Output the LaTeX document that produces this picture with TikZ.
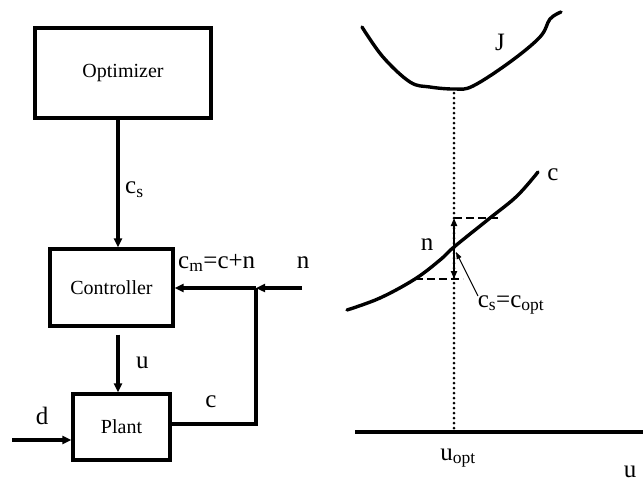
\documentclass[tikz,border=0pt]{standalone}
\usepackage{fontspec}
\setmainfont{Liberation Serif}
\usetikzlibrary{arrows.meta,calc}
\begin{document}
\begin{tikzpicture}[x=1pt,y=-1pt,
  box/.style={draw,line width=3.4pt,inner sep=0pt,font=\fontsize{20}{24}\selectfont},
  arr/.style={line width=3.4pt,-{Triangle[length=9pt,width=8pt]}},
  lbl/.style={inner sep=0pt,font=\fontsize{25}{30}\selectfont},
  curve/.style={line width=3.4pt,line cap=round},
  dotln/.style={line width=3pt,line cap=round,dash pattern=on 0pt off 5pt},
  dashln/.style={line width=2.2pt,dash pattern=on 8pt off 4pt},
  darr/.style={line width=2.4pt,-{Triangle[length=8pt,width=6pt]}},
  thinarr/.style={line width=0.9pt,-{Triangle[length=7pt,width=5pt]}}]
\useasboundingbox (0,0) rectangle (643,483);
% ---------- left block diagram
\node[box,minimum width=176pt,minimum height=90pt] (opt) at (123,73) {Optimizer};
\node[box,minimum width=123pt,minimum height=77pt] (ctl) at (111.5,287.5) {Controller};
\node[box,minimum width=97pt,minimum height=66pt] (plant) at (121.5,427) {Plant};
\coordinate (x1) at (118,0);
\draw[arr] (opt.south -| x1) -- (ctl.north -| x1);
\draw[arr] ($(ctl.south -| x1)+(0,7)$) -- (plant.north -| x1);
\coordinate (dstart) at (12,440);
\draw[arr] (dstart) -- (dstart -| plant.west);
\coordinate (jn) at (256,288);
\coordinate (nin) at (302,288);
\draw[line width=3.4pt] ($(plant.east)+(0,-3)$) -| (jn);
\draw[arr] (jn) -- (jn -| ctl.east);
\draw[arr] (nin) -- (jn);
\node[lbl,anchor=west] (lcs) at (125,190) {c\textsubscript{s}};
\node[lbl,anchor=west] (lu) at (136,363) {u};
\node[lbl] (lc) at (211,402) {c};
\node[lbl] (ld) at (42,416) {d};
\node[lbl,anchor=west] (lcm) at (178,263) {c\textsubscript{m}=c+n};
\node[lbl] (ln) at (303,263) {n};
% ---------- right graph
\coordinate (jmin) at (454,93);
\coordinate (copt) at (454,247);
\coordinate (uopt) at (454,432);
\coordinate (axl) at (355,432);
\coordinate (axr) at (643,432);
\draw[curve] plot[smooth,tension=0.6] coordinates {(362,27) (383,57) (410,82) (430,87) (455,89) (473,86) (510,62) (540,37) (550,19) (561,12)};
\draw[curve] plot[smooth,tension=0.6] coordinates {(347,310) (380,298) (415,279) (440,260) (454,247) (490,218) (517,196) (538,172)};
\draw[dotln] (jmin) -- (uopt);
\draw[line width=3.4pt] (axl) -- (axr);
\coordinate (nhi) at (454,218);
\coordinate (nlo) at (454,279);
\draw[dashln] (nhi) -- (499,218);
\draw[dashln] (415,279) -- (463,279);
\draw[darr] (copt) -- (nhi);
\draw[darr] (copt) -- (nlo);
\node[lbl] (J) at (500,42) {J};
\node[lbl] (rc) at (553,175) {c};
\node[lbl] (rn) at (427,245) {n};
\node[lbl] (cso) at (511,305) {c\textsubscript{s}=c\textsubscript{opt}};
\draw[thinarr] (478,296) -- ($(copt)+(2,5)$);
\node[lbl] (luopt) at (458,458) {u\textsubscript{opt}};
\node[lbl,anchor=base] (lux) at (630,477) {u};
\end{tikzpicture}
\end{document}
